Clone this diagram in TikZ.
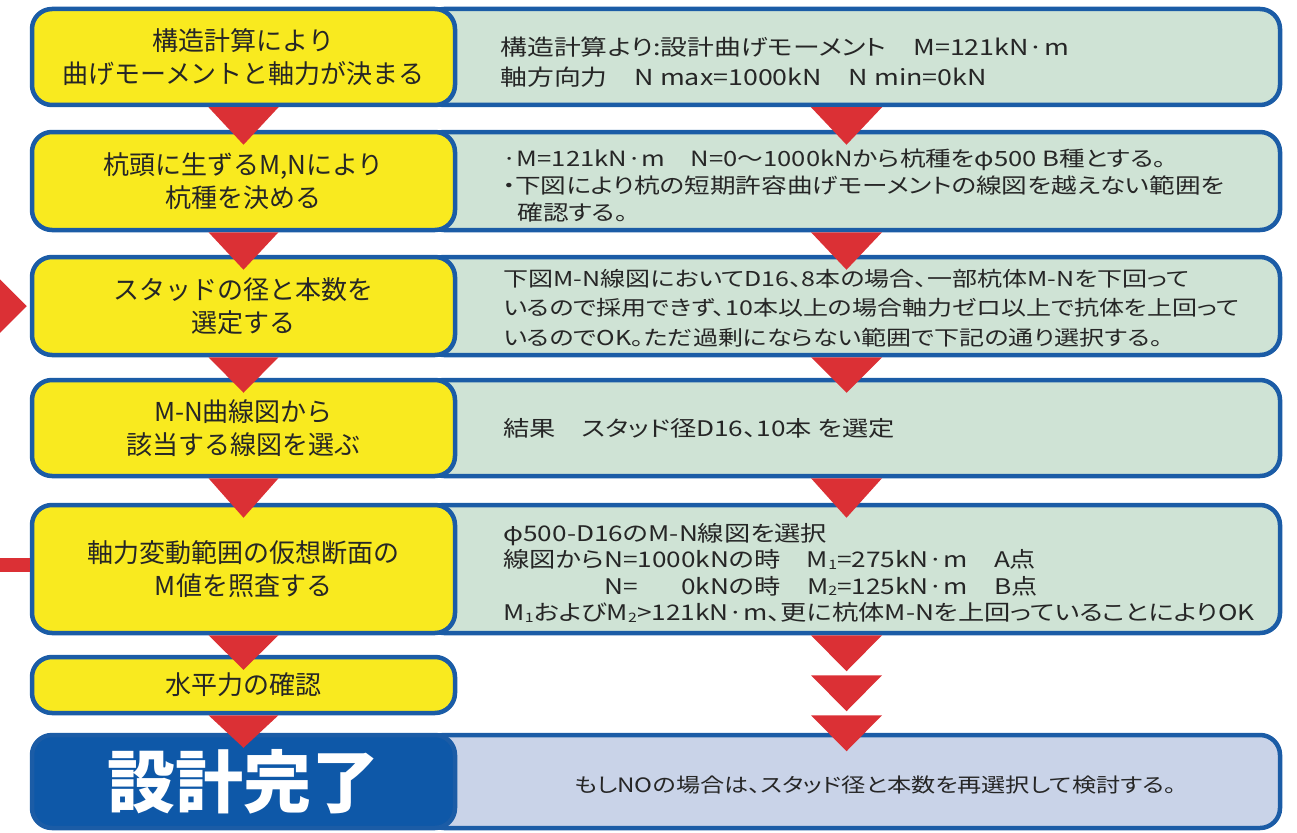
\documentclass[tikz,border=0pt]{standalone}
\usepackage{fontspec}
\newfontfamily\jp{Noto Sans CJK JP}
\newfontfamily\jpwide{Noto Sans CJK JP}[FakeStretch=1.22, RawFeature=+palt]
\usetikzlibrary{positioning,calc}

\definecolor{StepYellow}{HTML}{F9EA1F}
\definecolor{FrameBlue}{HTML}{1B5CA6}
\definecolor{PanelGreen}{HTML}{CFE3D5}
\definecolor{PanelLilac}{HTML}{C9D3E8}
\definecolor{ArrowRed}{HTML}{DB3035}
\definecolor{DoneBlue}{HTML}{0E58A8}

\newcommand\lowidx[1]{\raisebox{-1.5pt}{\fontsize{13}{13}\selectfont #1}}

\tikzset{
  stepbox/.style={draw=FrameBlue, line width=4.5pt, rounded corners=20pt, fill=StepYellow,
    minimum width=423pt, align=center, text=black!85, font=\jp\fontsize{26}{33}\selectfont},
  donebox/.style={stepbox, fill=DoneBlue, text=white, font=\jp\bfseries\fontsize{68}{68}\selectfont},
  panel/.style={draw=FrameBlue, line width=4.5pt, rounded corners=20pt, fill=PanelGreen,
    minimum width=856pt},
  note/.style={inner sep=0pt, align=left, text=black!85, font=\jpwide\fontsize{21.5}{#1}\selectfont},
  note/.default=27.5,
  downtri/.style={fill=ArrowRed},
}

\begin{document}
\begin{tikzpicture}[x=1pt, y=1pt]
\useasboundingbox (0,0) rectangle (1297,-832);

% panels on the right, behind the steps
\node[panel, minimum height=96pt] (p1) at (852,-57) {};
\node[panel, minimum height=98pt] (p2) at (852,-181) {};
\node[panel, minimum height=98pt] (p3) at (852,-306) {};
\node[panel, minimum height=96pt] (p4) at (852,-428) {};
\node[panel, minimum height=128pt] (p5) at (852,-569) {};
\node[panel, fill=PanelLilac, minimum height=93pt] (p7) at (852,-781.5) {};

% steps
\node[stepbox, minimum height=96pt] (s1) at (243.5,-57) {構造計算により\\曲げモーメントと軸力が決まる};
\node[stepbox, minimum height=98pt] (s2) at (243.5,-181) {杭頭に生ずるM,Nにより\\杭種を決める};
\node[stepbox, minimum height=98pt] (s3) at (243.5,-306) {スタッドの径と本数を\\選定する};
\node[stepbox, minimum height=96pt] (s4) at (243.5,-428) {M-N曲線図から\\該当する線図を選ぶ};
\node[stepbox, minimum height=128pt] (s5) at (243.5,-569) {軸力変動範囲の仮想断面の\\M値を照査する};
\node[stepbox, minimum height=56pt] (s6) at (243.5,-685) {水平力の確認};
\node[donebox, minimum height=93pt] (s7) at (243.5,-781.5) {\raisebox{-5pt}{設計完了}};

% loop back from the check step
\draw[ArrowRed, line width=14pt] ($(s5.west)+(0,4)$) -- ++(-60,0) |- ($(s3.west)+(-40,0)$);
\fill[ArrowRed] ($(s3.west)+(-3,0)$) -- ++(-45,45) -- ++(0,-90) -- cycle;

% notes
\node[note, font=\jpwide\fontsize{22}{30}\selectfont, right=43pt of s1, yshift=-5pt] (t1) {構造計算より:設計曲げモーメント　M=121kN·m\\軸方向力　N max=1000kN　N min=0kN};
\node[note, font=\jpwide\fontsize{21}{27}\selectfont, right=45pt of s2, yshift=-5pt] (t2) {·M=121kN·m　N=0〜1000kNから杭種をφ500 B種とする。\\・下図により杭の短期許容曲げモーメントの線図を越えない範囲を\\\hspace{15pt}確認する。};
\node[note, font=\jpwide\fontsize{20.5}{29.5}\selectfont, right=46pt of s3, yshift=-2pt] (t3) {下図M-N線図においてD16、8本の場合、一部杭体M-Nを下回って\\いるので採用できず、10本以上の場合軸力ゼロ以上で抗体を上回って\\いるのでOK。ただ過剰にならない範囲で下記の通り選択する。};
\node[note, right=46pt of s4] (t4) {結果　スタッド径D16、10本 を選定};
\node[note=26.5, right=46pt of s5, yshift=-4pt] (t5) {φ500-D16のM-N線図を選択\\線図からN=1000kNの時　M\lowidx{1}=275kN·m　A点\\\phantom{線図から}N=\phantom{100}0kNの時　M\lowidx{2}=125kN·m　B点\\M\lowidx{1}およびM\lowidx{2}>121kN·m、更に杭体M-Nを上回っていることによりOK};
\node[note, font=\jpwide\fontsize{19.8}{26}\selectfont] (t7) at ($(p7.center)+(23,-3.5)$) {もしNOの場合は、スタッド径と本数を再選択して検討する。};

% arrows between the steps
\foreach \a/\b in {s1/s2, s2/s3, s3/s4, s4/s5, s5/s6, s6/s7}
  \fill[downtri] ($(\a.south)+(-35,0)$) -- ($(\a.south)+(35,0)$) -- ($(\b.north)+(0,-15)$) -- cycle;

\foreach \a/\b in {p1/p2, p2/p3, p3/p4, p4/p5}
  \fill[downtri] ($(\a.south)+(-41,0)$) -- ($(\a.south)+(30,0)$) -- ($(\b.north)+(-5.5,-15)$) -- cycle;

\foreach \k in {0,1,2}
  \fill[downtri] ($(p5.south)+(-41,-40*\k)$) -- ++(71,0) -- ++(-35.5,-36) -- cycle;

\end{tikzpicture}
\end{document}
